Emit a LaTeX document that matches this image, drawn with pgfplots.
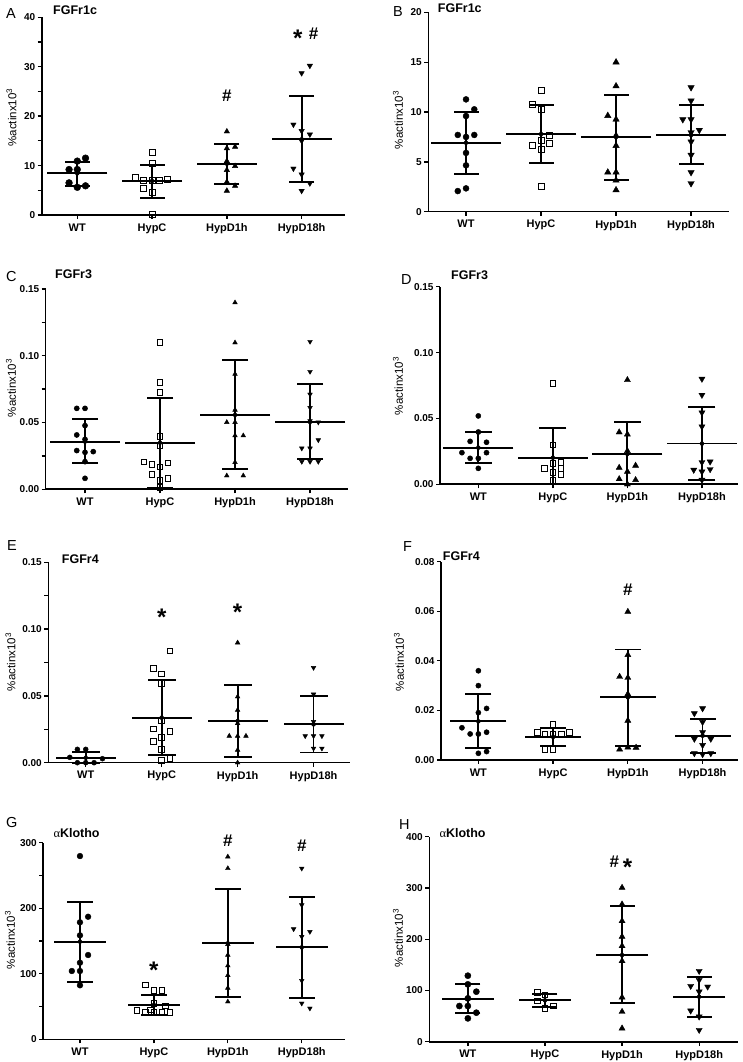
\documentclass[border=0pt]{standalone}
\usepackage{pgfplots}
\usepackage{pgfplotstable}
\pgfplotsset{compat=1.18}
\usepackage{fontspec}
\setmainfont{Liberation Sans}
\newfontfamily\greekfont{Liberation Serif}

\pgfplotsset{
  panel/.style={
    scale only axis, anchor=south west, clip=false,
    axis x line*=bottom, axis y line*=left,
    axis line style={line width=1.6pt,-},
    tick style={black, line width=1.3pt},
    tick align=outside, major tick length=4pt, minor tick length=4pt,
    xtick={1,2,3,4}, xticklabels={WT,HypC,HypD1h,HypD18h},
    x tick label style={font=\fontsize{11}{13}\selectfont\bfseries, yshift=-1pt},
    y tick label style={font=\fontsize{10}{12}\selectfont\bfseries, xshift=1pt},
    /pgf/number format/assume math mode=true,
    scaled y ticks=false, ymin=0,
  },
  dec/.style={yticklabel style={/pgf/number format/.cd, fixed, fixed zerofill, precision=2}},
  wt/.style={only marks, mark=*, mark options={draw=black, fill=black}},
  hc/.style={only marks, mark=square, mark options={draw=black, fill=white, line width=1pt}},
  dA/.style={only marks, mark=triangle*, mark options={draw=black, fill=black}},
  dB/.style={only marks, mark=triangle*, mark options={draw=black, fill=black, rotate=180}},
}
\tikzset{
  ann/.style={font=\fontsize{17}{17}\selectfont\bfseries, inner sep=0pt},
  star/.style={font=\fontsize{24}{24}\selectfont\bfseries, inner sep=0pt, yshift=-5pt},
  ttl/.style={font=\fontsize{12.5}{14}\selectfont\bfseries, anchor=west, inner sep=0pt},
  let/.style={font=\fontsize{14.5}{16}\selectfont, anchor=west, inner sep=0pt},
  ylab/.style={font=\fontsize{11.5}{13}\selectfont, rotate=90, inner sep=0pt},
}
\newcommand{\stats}[3]{%
  \addplot[black, only marks, mark=-, mark size=#2, mark options={line width=1.8pt}] table[x=x,y=m]{#1};
  \addplot[black, only marks, mark=-, mark size=#3, mark options={line width=1.8pt}] table[x=x,y=hi]{#1};
  \addplot[black, only marks, mark=-, mark size=#3, mark options={line width=1.8pt}] table[x=x,y=lo]{#1};
  \addplot[black, only marks, mark=none, error bars/.cd, y dir=both, y explicit, error mark=none,
    error bar style={line width=1.8pt, draw=black, solid}]
    table[x=x, y=m, y error plus expr=\thisrow{hi}-\thisrow{m}, y error minus expr=\thisrow{m}-\thisrow{lo}]{#1};
}
\newcommand{\ylab}{\%actinx10\textsuperscript{3}}

\pgfplotstableread{
x m hi lo
1 8.43 10.8 5.93
2 6.88 10.18 3.37
3 10.38 14.3 6.27
4 15.3 24.1 6.6
}\statA
\pgfplotstableread{
x m hi lo
1 6.92 10.03 3.78
2 7.79 10.67 4.92
3 7.49 11.67 3.18
4 7.69 10.7 4.75
}\statB
\pgfplotstableread{
x m hi lo
1 0.0357 0.0527 0.0195
2 0.0349 0.0686 0.001
3 0.0557 0.0968 0.015
4 0.0504 0.0786 0.0227
}\statC
\pgfplotstableread{
x m hi lo
1 0.0278 0.0395 0.0164
2 0.0202 0.0428 0.0
3 0.023 0.047 0.0
4 0.0309 0.0587 0.0033
}\statD
\pgfplotstableread{
x m hi lo
1 0.0037 0.0082 0.0
2 0.0337 0.0619 0.0055
3 0.0312 0.0579 0.0045
4 0.0287 0.0499 0.0077
}\statE
\pgfplotstableread{
x m hi lo
1 0.0156 0.0265 0.0047
2 0.0093 0.0128 0.0058
3 0.0253 0.0446 0.0058
4 0.0098 0.0167 0.0027
}\statF
\pgfplotstableread{
x m hi lo
1 149 210 88
2 52.4 68.1 37
3 146.4 228.8 65.1
4 140.3 217.6 63.6
}\statG
\pgfplotstableread{
x m hi lo
1 82.6 111.9 55.3
2 80.7 93 68.3
3 169.1 264.7 74.8
4 87.8 126.8 47.5
}\statH

\begin{document}
\begin{tikzpicture}[x=1pt,y=1pt]
\path[use as bounding box] (0,0) rectangle (742,1062);

% ---------------- A
\begin{axis}[panel, at={(41.7pt,847pt)}, width=303.3pt, height=197.7pt,
  xmin=0.524, xmax=4.58, ymax=40, ytick={0,10,20,30,40}, minor y tick num=1]
\stats{\statA}{30pt}{12.5pt}
\addplot[wt, mark size=3.4pt] coordinates {(1,10.9) (1.11,11.5) (0.89,9.2) (1,9.2) (0.89,6.5) (1,5.6) (1.11,5.9)};
\addplot[hc, mark size=3pt] coordinates {(2,12.6) (2,10.45) (1.78,7.55) (1.89,6.9) (2,6.9) (2.1,6.9) (2.21,7.1) (1.89,5.4) (2,4.6) (2,0)};
\addplot[dA, mark size=3.1pt] coordinates {(3,16.9) (3,13.5) (3.11,13.8) (3,10.9) (3.11,9.9) (3,9.1) (3,6.7) (3.11,5.9) (3,4.9)};
\addplot[dB, mark size=3.1pt] coordinates {(4.11,30.2) (4,28.7) (3.89,18.3) (4,17.0) (4.11,16.3) (4,15.0) (3.89,9.4) (4,8.2) (4.11,6.4) (4,4.9)};
\node[ann] at (axis cs:3,24.1) {\#};
\node[star] at (axis cs:3.95,36.7) {*};
\node[ann] at (axis cs:4.16,36.7) {\#};
\end{axis}

% ---------------- B
\begin{axis}[panel, at={(428.3pt,850.3pt)}, width=301pt, height=199.3pt,
  xmin=0.497, xmax=4.51, ymax=20, ytick={0,5,10,15,20}]
\stats{\statB}{35pt}{12.5pt}
\addplot[wt, mark size=3pt] coordinates {(1,11.27) (1.11,10.27) (1,9.6) (0.89,7.7) (1,7.5) (1.11,7.7) (1,5.9) (1,4.65) (0.89,2.07) (1,2.34)};
\addplot[hc, mark size=3pt] coordinates {(2,12.2) (1.89,10.77) (2,10.27) (1.89,6.62) (2,7.19) (2,6.29) (2.11,7.69) (2.11,6.86) (2,2.5)};
\addplot[dA, mark size=3.7pt] coordinates {(3,15.0) (3,12.6) (2.89,9.63) (3,9.26) (3,7.63) (3,6.62) (2.89,3.95) (3,3.95) (3,3.14) (3,2.17)};
\addplot[dB, mark size=3.7pt] coordinates {(4,12.47) (4,11.14) (3.89,9.26) (4,9.26) (4,7.96) (4.11,8.19) (4,7.02) (4,5.69) (4,3.95) (4,2.84)};
\end{axis}

% ---------------- C
\begin{axis}[panel, dec, at={(45.7pt,572.7pt)}, width=302.6pt, height=200.3pt,
  xmin=0.476, xmax=4.51, ymax=0.15, ytick={0,0.05,0.10,0.15}, minor y tick num=1]
\stats{\statC}{35pt}{13pt}
\addplot[wt, mark size=2.6pt] coordinates {(0.89,0.0606) (1,0.0606) (1,0.0477) (0.89,0.0407) (1,0.0374) (0.89,0.029) (1,0.0277) (1.11,0.0282) (1,0.0207) (1,0.0082)};
\addplot[hc, mark size=2.7pt] coordinates {(2,0.110) (2,0.080) (2,0.0724) (2,0.0394) (2,0.0324) (1.79,0.0205) (1.89,0.0187) (2,0.0165) (2.11,0.0197) (1.89,0.0112) (2.11,0.0082) (2,0.0065) (2,0.0012)};
\addplot[dA, mark size=2.7pt] coordinates {(3,0.1398) (3,0.1098) (3,0.0863) (3,0.0594) (2.89,0.0502) (3,0.0502) (3,0.0402) (3.11,0.0402) (3,0.0202) (2.89,0.0102) (3.11,0.0102)};
\addplot[dB, mark size=2.7pt] coordinates {(4,0.1106) (4,0.0881) (4,0.0711) (4,0.0611) (4,0.0512) (4.11,0.0502) (4.11,0.0369) (3.89,0.0307) (4,0.0307) (3.89,0.0207) (4,0.0207) (4.11,0.0207)};
\end{axis}

% ---------------- D
\begin{axis}[panel, dec, at={(440pt,577.7pt)}, width=297.7pt, height=197.6pt,
  xmin=0.486, xmax=4.48, ymax=0.15, ytick={0,0.05,0.10,0.15}]
\stats{\statD}{35pt}{13.5pt}
\addplot[wt, mark size=2.6pt] coordinates {(1,0.0519) (1,0.0397) (0.89,0.0326) (1.11,0.0319) (0.78,0.024) (0.89,0.0197) (1,0.0197) (1.11,0.024) (1,0.0121)};
\addplot[hc, mark size=2.8pt] coordinates {(2,0.0767) (2,0.0298) (1.89,0.0121) (2,0.0159) (2.11,0.0167) (2,0.0091) (2.11,0.0121) (2.11,0.0076) (2,0.0028)};
\addplot[dA, mark size=3.5pt] coordinates {(3,0.0792) (2.89,0.0395) (3,0.0379) (3,0.0253) (2.89,0.0126) (3.11,0.0142) (3,0.0096) (2.89,0.004) (3.11,0.0033) (3,0.0)};
\addplot[dB, mark size=3.5pt] coordinates {(4,0.08) (4,0.0678) (4,0.0544) (4,0.0438) (4,0.0167) (4.11,0.0172) (3.89,0.0109) (4,0.0096) (4.11,0.0114) (4,0.0033)};
\end{axis}

% ---------------- E
\begin{axis}[panel, dec, at={(48.3pt,299.3pt)}, width=301.7pt, height=200.4pt,
  xmin=0.507, xmax=4.48, ymax=0.15, ytick={0,0.05,0.10,0.15}, minor y tick num=1]
\stats{\statE}{30pt}{14pt}
\addplot[wt, mark size=2.5pt] coordinates {(0.89,0.01) (1,0.01) (0.79,0.004) (1.22,0.003) (0.89,0) (1,0) (1.11,0)};
\addplot[hc, mark size=2.8pt] coordinates {(2.11,0.0836) (1.89,0.0706) (2,0.0664) (2,0.0594) (2,0.0312) (1.89,0.0252) (2.11,0.0232) (2,0.019) (1.89,0.0157) (2,0.01) (2.11,0.0032) (2,0.0015)};
\addplot[dA, mark size=2.7pt] coordinates {(3,0.0898) (3,0.0494) (3,0.0394) (3,0.0294) (2.89,0.02) (3,0.02) (3.11,0.02) (3,0.0095) (3,0.0)};
\addplot[dB, mark size=2.7pt] coordinates {(4,0.0711) (4,0.0512) (4,0.0307) (3.89,0.02) (4,0.02) (4.11,0.02) (4,0.0107) (4.11,0.0107)};
\node[star] at (axis cs:2,0.1123) {*};
\node[star] at (axis cs:3,0.116) {*};
\end{axis}

% ---------------- F
\begin{axis}[panel, dec, at={(441pt,302pt)}, width=296.7pt, height=198.3pt,
  xmin=0.50, xmax=4.47, ymax=0.08, ytick={0,0.02,0.04,0.06,0.08}]
\stats{\statF}{28pt}{13pt}
\addplot[wt, mark size=2.6pt] coordinates {(1,0.036) (1,0.030) (1.11,0.0208) (1,0.0191) (0.78,0.013) (0.89,0.0105) (1,0.0105) (1.11,0.0112) (1,0.0027) (1.11,0.0034)};
\addplot[hc, mark size=2.8pt] coordinates {(2,0.0144) (1.79,0.0112) (1.89,0.0104) (2,0.0104) (2.11,0.0104) (2.22,0.0112) (1.89,0.0043) (2,0.0043)};
\addplot[dA, mark size=3.5pt] coordinates {(3,0.0598) (3,0.0424) (2.89,0.0336) (3,0.0332) (3,0.0266) (3,0.0159) (2.89,0.0043) (3,0.0051) (3.11,0.005)};
\addplot[dB, mark size=3.5pt] coordinates {(3.89,0.0188) (4,0.0208) (4,0.0153) (4,0.0112) (3.89,0.0085) (4.11,0.0085) (4,0.006) (3.89,0.0027) (4,0.0023) (4.11,0.0027)};
\node[ann] at (axis cs:3,0.0688) {\#};
\end{axis}

% ---------------- G
\begin{axis}[panel, at={(43.3pt,22.7pt)}, width=301.7pt, height=196.6pt,
  xmin=0.504, xmax=4.585, ymax=300, ytick={0,100,200,300}, minor y tick num=1]
\stats{\statG}{26pt}{13pt}
\addplot[wt, mark size=2.9pt] coordinates {(1,279.6) (1.11,187) (1,178.5) (1,158.6) (1.11,128.6) (1,116.9) (0.89,104.2) (1,104.2) (1,82.4)};
\addplot[hc, mark size=2.8pt] coordinates {(1.89,82.9) (2,74.2) (2.11,74.2) (2,54.4) (2.16,50.8) (1.77,43.7) (1.89,40.7) (1.95,45) (2,40.7) (2.11,40.7) (2.22,40.7)};
\addplot[dA, mark size=2.7pt] coordinates {(3,278.6) (3,260.8) (3,144.9) (3,128.6) (3,112.4) (3,97.6) (3,78.3) (3,57.4)};
\addplot[dB, mark size=2.7pt] coordinates {(4,260.8) (4,204.9) (3.89,168.3) (4.11,164.2) (4,156.6) (4,89.5) (4,54.9) (4.11,47.3)};
\node[star] at (axis cs:2,112.4) {*};
\node[ann] at (axis cs:3,303) {\#};
\node[ann] at (axis cs:4,295) {\#};
\end{axis}

% ---------------- H
\begin{axis}[panel, at={(429.3pt,20.3pt)}, width=308.4pt, height=205pt,
  xmin=0.50, xmax=4.5, ymax=400, ytick={0,100,200,300,400}]
\stats{\statH}{26pt}{12.5pt}
\addplot[wt, mark size=3.1pt] coordinates {(1,128.8) (1,111.9) (1.11,97.6) (1,84.6) (0.89,69.6) (1,69.6) (1.11,56.6) (1,45.5)};
\addplot[hc, mark size=2.8pt] coordinates {(1.9,96.3) (2,91.1) (1.9,79.7) (2,65) (2.11,69.6)};
\addplot[dA, mark size=3.5pt] coordinates {(3,300.5) (3,268) (3,235.5) (3,204.9) (3,186.7) (3,157.4) (3,86.5) (3,58.5) (3,26)};
\addplot[dB, mark size=3.5pt] coordinates {(4,137.9) (3.89,108.6) (4,120.3) (4.11,107.3) (4,97.6) (3.89,60.5) (4,48.8) (4,22.8)};
\node[ann] at (axis cs:2.9,351) {\#};
\node[star] at (axis cs:3.07,351) {*};
\end{axis}

% ---------------- titles, letters, y labels
\node[let] at (6,1048) {A};
\node[let] at (393,1050) {B};
\node[let] at (6,785) {C};
\node[let] at (401,782) {D};
\node[let] at (7,516) {E};
\node[let] at (403,515) {F};
\node[let] at (6,239) {G};
\node[let] at (399,237) {H};

\node[ttl] at (53,1052) {FGFr1c};
\node[ttl] at (437.7,1054) {FGFr1c};
\node[ttl] at (55,787.7) {FGFr3};
\node[ttl] at (451,787) {FGFr3};
\node[ttl] at (61.7,502.7) {FGFr4};
\node[ttl] at (442.7,505.3) {FGFr4};
\node[ttl] at (53.3,229.3) {{\greekfont\mdseries α}Klotho};
\node[ttl] at (439.3,228.7) {{\greekfont\mdseries α}Klotho};

\node[ylab] at (11.5,944.5) {\ylab};
\node[ylab] at (398,942) {\ylab};
\node[ylab] at (11,674) {\ylab};
\node[ylab] at (398,676) {\ylab};
\node[ylab] at (10.5,400) {\ylab};
\node[ylab] at (399,400) {\ylab};
\node[ylab] at (10,122) {\ylab};
\node[ylab] at (398,124) {\ylab};
\end{tikzpicture}
\end{document}
